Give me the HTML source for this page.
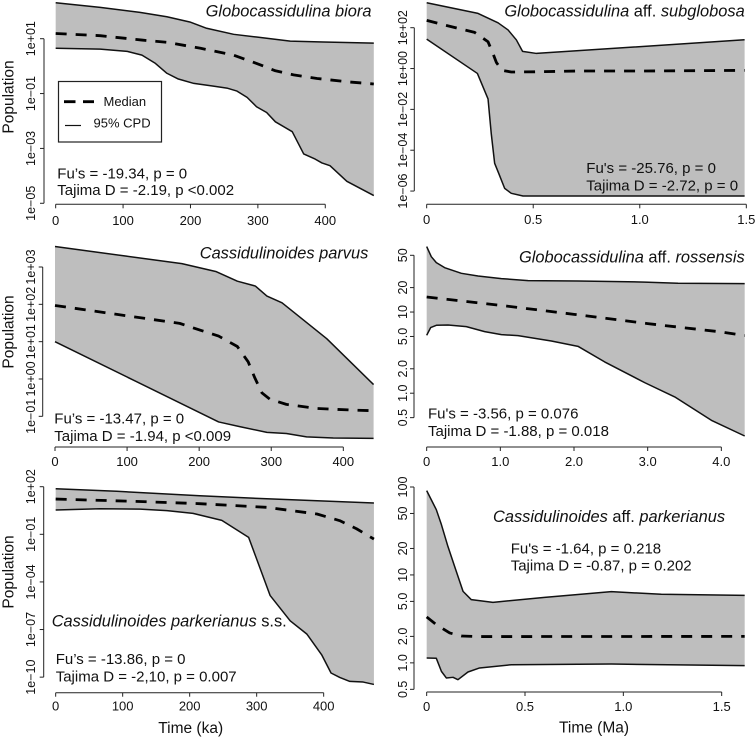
<!DOCTYPE html>
<html lang="en">
<head>
<meta charset="utf-8">
<title>Population skyline plots</title>
<style>
html,body{margin:0;padding:0;background:#fff;}
svg{display:block;font-family:"Liberation Sans",Arial,sans-serif;fill:#111;}
</style>
</head>
<body>
<svg id="chart" xmlns="http://www.w3.org/2000/svg" width="756" height="738" viewBox="0 0 756 738"></svg>
<script>
// Panel 1: Globocassidulina biora (values are log10 population)
const p1UpperTime = [0,66,125,165,199,224,264,298,348,397,472];
const p1UpperVal = [2.31,2.14,1.96,1.80,1.61,1.38,1.16,1.06,0.91,0.88,0.84];
const p1LowerTime = [0,66,106,128,148,165,182,205,234,254,269,284,298,313,326,351,368,385,395,407,432,472];
const p1LowerVal = [0.65,0.62,0.54,0.40,0.10,-0.26,-0.47,-0.63,-0.73,-0.80,-0.91,-1.14,-1.48,-1.69,-2.03,-2.39,-3.20,-3.39,-3.53,-3.63,-4.20,-4.72];
const p1MedianTime = [0,66,128,165,215,264,298,326,353,388,432,472];
const p1MedianVal = [1.19,1.11,0.95,0.87,0.65,0.40,0.10,-0.17,-0.32,-0.45,-0.57,-0.65];
const p1XTicks = [0,100,200,300,400];
const p1XLabels = ["0","100","200","300","400"];
const p1YTicks = [1,-1,-3,-5];
const p1YLabels = ["1e+01","1e\u221201","1e\u221203","1e\u221205"];

// Panel 2: Globocassidulina aff. subglobosa (log10 population)
const p2UpperTime = [0,0.241,0.335,0.382,0.421,0.45,0.515,1.492];
const p2UpperVal = [3.22,2.70,2.24,1.89,1.40,0.84,0.74,1.41];
const p2LowerTime = [0,0.238,0.288,0.303,0.319,0.338,0.366,0.397,0.452,1.492];
const p2LowerVal = [1.44,-0.24,-1.49,-3.18,-4.64,-5.13,-5.87,-6.11,-6.24,-6.24];
const p2MedianTime = [0,0.084,0.225,0.288,0.311,0.327,0.354,0.397,0.507,0.71,1.023,1.492];
const p2MedianVal = [2.36,2.13,1.77,1.31,0.74,0.30,-0.09,-0.17,-0.16,-0.12,-0.12,-0.09];
const p2XTicks = [0,0.5,1,1.5];
const p2XLabels = ["0","0.5","1.0","1.5"];
const p2YTicks = [2,0,-2,-4,-6];
const p2YLabels = ["1e+02","1e+00","1e\u221202","1e\u221204","1e\u221206"];

// Panel 3: Cassidulinoides parvus (log10 population)
const p3UpperTime = [0,99,176,223,253,278,294,315,377,442];
const p3UpperVal = [3.55,3.29,3.09,2.88,2.62,2.49,2.22,2.04,1.08,-0.15];
const p3LowerTime = [0,227,257,294,321,349,386,442];
const p3LowerVal = [1.0,-1.15,-1.28,-1.43,-1.46,-1.55,-1.58,-1.59];
const p3MedianTime = [0,86,173,201,227,253,268,277,287,298,321,363,409,442];
const p3MedianVal = [1.97,1.73,1.49,1.31,1.15,0.87,0.46,0.04,-0.37,-0.54,-0.68,-0.79,-0.83,-0.85];
const p3XTicks = [0,100,200,300,400];
const p3XLabels = ["0","100","200","300","400"];
const p3YTicks = [3,2,1,0,-1];
const p3YLabels = ["1e+03","1e+02","1e+01","1e+00","1e\u221201"];

// Panel 4: Globocassidulina aff. rossensis (population)
const p4UpperTime = [0,0.063,0.131,0.244,0.471,0.697,1.014,1.376,2.054,2.959,3.412,4.317];
const p4UpperVal = [64,48.1,40.6,35.2,30,27.8,25.8,24.4,24.1,23.4,22.6,22.4];
const p4LowerTime = [0,0.054,0.131,0.29,0.538,0.787,1.014,1.24,1.692,2.054,2.416,2.959,3.367,3.864,4.317];
const p4LowerVal = [5.17,6.43,6.87,6.93,6.61,5.74,5.27,5.12,4.40,3.78,2.43,1.35,0.90,0.464,0.297];
const p4MedianTime = [0,1,2,3,4,4.317];
const p4MedianVal = [15.3,12.1,9.37,7.2,5.68,5.12];
const p4XTicks = [0,1,2,3,4];
const p4XLabels = ["0","1.0","2.0","3.0","4.0"];
const p4YTicks = [50,20,10,5,2,1,0.5];
const p4YLabels = ["50","20","10","5.0","2.0","1.0","0.5"];

// Panel 5: Cassidulinoides parkerianus s.s. (log10 population)
const p5UpperTime = [0,91,215,315,475];
const p5UpperVal = [1.87,1.71,1.43,1.24,0.97];
const p5LowerTime = [0,66,126,166,205,248,288,320,350,375,397,411,424,439,459,475];
const p5LowerVal = [0.53,0.61,0.59,0.49,0.32,-0.12,-1.19,-4.85,-6.45,-7.29,-8.59,-9.74,-10.02,-10.27,-10.31,-10.46];
const p5MedianTime = [0,116,215,315,390,424,449,475];
const p5MedianVal = [1.22,1.08,0.93,0.70,0.28,-0.14,-0.65,-1.30];
const p5XTicks = [0,100,200,300,400];
const p5XLabels = ["0","100","200","300","400"];
const p5YTicks = [2,-1,-4,-7,-10];
const p5YLabels = ["1e+02","1e\u221201","1e\u221204","1e\u221207","1e\u221210"];

// Panel 6: Cassidulinoides aff. parkerianus (population)
const p6UpperTime = [0,0.049,0.075,0.108,0.142,0.185,0.227,0.337,0.6,0.939,1.193,1.617];
const p6UpperVal = [90.9,55.2,37.3,21.1,12.5,6.5,5.23,4.88,5.56,6.45,6.02,5.86];
const p6LowerTime = [0,0.049,0.075,0.10,0.134,0.159,0.21,0.269,0.431,0.939,1.617];
const p6LowerVal = [1.135,1.127,0.80,0.673,0.685,0.644,0.787,0.875,0.953,0.97,0.929];
const p6MedianTime = [0,0.049,0.117,0.176,0.261,1.617];
const p6MedianVal = [3.33,2.72,2.19,2.02,1.99,2.0];
const p6XTicks = [0,0.5,1,1.5];
const p6XLabels = ["0","0.5","1.0","1.5"];
const p6YTicks = [100,50,20,10,5,2,1,0.5];
const p6YLabels = ["100","50","20","10","5.0","2.0","1.0","0.5"];

const NS = "http://www.w3.org/2000/svg";
const svg = document.getElementById("chart");

function mk(tag, attrs, parent) {
  const el = document.createElementNS(NS, tag);
  for (const k in attrs) el.setAttribute(k, attrs[k]);
  (parent || svg).appendChild(el);
  return el;
}

// Axis functions: x is linear from a pixel origin, y is linear in log10 between two reference ticks.
function xScale(g) { return t => g.x0 + t * g.xPerUnit; }
function yScale(g) { return v => g.yA + (g.logA - (g.isLog ? v : Math.log10(v))) * g.yPerDecade; }

function pts(times, vals, sx, sy) {
  return times.map((t, i) => sx(t).toFixed(2) + "," + sy(vals[i]).toFixed(2));
}

function drawPanel(id, g, d, note, title) {
  const sx = xScale(g), sy = yScale(g);
  const grp = mk("g", {});
  
  

  // Confidence band
  const up = pts(d.upperT, d.upperV, sx, sy);
  const lo = pts(d.lowerT, d.lowerV, sx, sy).reverse();
  const band = mk("polygon", {points: up.concat(lo).join(" "), fill: "#bebebe", stroke: "none"}, grp);
  
  

  const upper = mk("polyline", {points: up.join(" "), fill: "none", stroke: "#111", "stroke-width": 1.5, "stroke-linejoin": "round"}, grp);
  
  

  const lower = mk("polyline", {points: lo.join(" "), fill: "none", stroke: "#111", "stroke-width": 1.5, "stroke-linejoin": "round"}, grp);
  
  

  const med = mk("polyline", {points: pts(d.medT, d.medV, sx, sy).join(" "), fill: "none", stroke: "#000", "stroke-width": 2.8, "stroke-dasharray": "11 9", "stroke-linejoin": "round"}, grp);
  
  

  // X axis
  const xAxis = mk("g", {stroke: "#222", "stroke-width": 1, fill: "none"}, grp);
  
  
  const xa = d.xTicks;
  mk("line", {x1: sx(xa[0]), x2: sx(xa[xa.length - 1]), y1: g.xAxisY, y2: g.xAxisY}, xAxis);
  xa.forEach((t, i) => {
    mk("line", {x1: sx(t), x2: sx(t), y1: g.xAxisY, y2: g.xAxisY + 4}, xAxis);
    const lab = mk("text", {x: sx(t), y: g.xLabelY, "text-anchor": "middle", "font-size": 13, fill: "#111", stroke: "none"}, grp);
    lab.textContent = d.xLabels[i];
    
    
  });

  // Y axis
  const yAxis = mk("g", {stroke: "#222", "stroke-width": 1, fill: "none"}, grp);
  
  
  const ya = d.yTicks;
  mk("line", {x1: g.yAxisX, x2: g.yAxisX, y1: sy(ya[0]), y2: sy(ya[ya.length - 1])}, yAxis);
  ya.forEach((v, i) => {
    mk("line", {x1: g.yAxisX - 4, x2: g.yAxisX, y1: sy(v), y2: sy(v)}, yAxis);
    const ly = sy(v), lx = g.yLabelX;
    const lab = mk("text", {x: lx, y: ly, "text-anchor": "middle", "font-size": 12.5, fill: "#111", stroke: "none", transform: "rotate(-90 " + lx + " " + ly + ")"}, grp);
    lab.textContent = d.yLabels[i];
    
    
  });

  // Neutrality statistics
  note.lines.forEach((s, i) => {
    const t = mk("text", {x: note.x, y: note.y[i], "font-size": 15, fill: "#111"}, grp);
    t.textContent = s;
    
    
  });

  // Species title
  const tt = mk("text", {x: title.x, y: title.y, "font-size": 16.4, fill: "#111", "text-anchor": title.anchor}, grp);
  
  
  title.parts.forEach(p => {
    const sp = mk("tspan", {"font-style": p[1] ? "italic" : "normal"}, tt);
    sp.textContent = p[0];
  });
}

drawPanel(1,
  {x0: 55.67, xPerUnit: 0.674, xAxisY: 204.3, xLabelY: 225, yAxisX: 44, yLabelX: 35, yA: 38.7, logA: 1, yPerDecade: 27.43, isLog: true},
  {upperT: p1UpperTime, upperV: p1UpperVal, lowerT: p1LowerTime, lowerV: p1LowerVal, medT: p1MedianTime, medV: p1MedianVal, xTicks: p1XTicks, xLabels: p1XLabels, yTicks: p1YTicks, yLabels: p1YLabels},
  {x: 57.3, y: [178.3, 195], lines: ["Fu\u2019s = -19.34, p = 0", "Tajima D = -2.19, p <0.002"]},
  {x: 371.5, y: 16.7, anchor: "end", parts: [["Globocassidulina biora", true]]});

drawPanel(2,
  {x0: 426.67, xPerUnit: 213.1, xAxisY: 204.3, xLabelY: 224, yAxisX: 414.3, yLabelX: 407, yA: 27.7, logA: 2, yPerDecade: 20.42, isLog: true},
  {upperT: p2UpperTime, upperV: p2UpperVal, lowerT: p2LowerTime, lowerV: p2LowerVal, medT: p2MedianTime, medV: p2MedianVal, xTicks: p2XTicks, xLabels: p2XLabels, yTicks: p2YTicks, yLabels: p2YLabels},
  {x: 586.3, y: [173, 190.7], lines: ["Fu's = -25.76, p = 0", "Tajima D = -2.72, p = 0"]},
  {x: 744.7, y: 16.7, anchor: "end", parts: [["Globocassidulina", true], [" aff. ", false], ["subglobosa", true]]});

drawPanel(3,
  {x0: 55, xPerUnit: 0.7208, xAxisY: 447, xLabelY: 466, yAxisX: 42.7, yLabelX: 35, yA: 267, logA: 3, yPerDecade: 37.33, isLog: true},
  {upperT: p3UpperTime, upperV: p3UpperVal, lowerT: p3LowerTime, lowerV: p3LowerVal, medT: p3MedianTime, medV: p3MedianVal, xTicks: p3XTicks, xLabels: p3XLabels, yTicks: p3YTicks, yLabels: p3YLabels},
  {x: 54.3, y: [423.3, 441], lines: ["Fu\u2019s = -13.47, p = 0", "Tajima D = -1.94, p <0.009"]},
  {x: 368.3, y: 258.7, anchor: "end", parts: [["Cassidulinoides parvus", true]]});

drawPanel(4,
  {x0: 426.67, xPerUnit: 73.67, xAxisY: 447, xLabelY: 466, yAxisX: 414, yLabelX: 407, yA: 255.3, logA: Math.log10(50), yPerDecade: 81.17, isLog: false},
  {upperT: p4UpperTime, upperV: p4UpperVal, lowerT: p4LowerTime, lowerV: p4LowerVal, medT: p4MedianTime, medV: p4MedianVal, xTicks: p4XTicks, xLabels: p4XLabels, yTicks: p4YTicks, yLabels: p4YLabels},
  {x: 428, y: [418.7, 436], lines: ["Fu's = -3.56, p = 0.076", "Tajima D = -1.88, p = 0.018"]},
  {x: 744.7, y: 262.7, anchor: "end", parts: [["Globocassidulina", true], [" aff. ", false], ["rossensis", true]]});

drawPanel(5,
  {x0: 55.67, xPerUnit: 0.67, xAxisY: 692.7, xLabelY: 710.5, yAxisX: 43.7, yLabelX: 35, yA: 486.7, logA: 2, yPerDecade: 15.87, isLog: true},
  {upperT: p5UpperTime, upperV: p5UpperVal, lowerT: p5LowerTime, lowerV: p5LowerVal, medT: p5MedianTime, medV: p5MedianVal, xTicks: p5XTicks, xLabels: p5XLabels, yTicks: p5YTicks, yLabels: p5YLabels},
  {x: 55.7, y: [664, 681.3], lines: ["Fu\u2019s = -13.86, p = 0", "Tajima D = -2,10, p = 0.007"]},
  {x: 51.7, y: 626.3, anchor: "start", parts: [["Cassidulinoides parkerianus", true], [" s.s.", false]]});

drawPanel(6,
  {x0: 426.67, xPerUnit: 196.67, xAxisY: 692, xLabelY: 711, yAxisX: 414, yLabelX: 407, yA: 487, logA: 2, yPerDecade: 87.93, isLog: false},
  {upperT: p6UpperTime, upperV: p6UpperVal, lowerT: p6LowerTime, lowerV: p6LowerVal, medT: p6MedianTime, medV: p6MedianVal, xTicks: p6XTicks, xLabels: p6XLabels, yTicks: p6YTicks, yLabels: p6YLabels},
  {x: 510.7, y: [553.7, 570.7], lines: ["Fu's = -1.64, p = 0.218", "Tajima D = -0.87, p = 0.202"]},
  {x: 493, y: 522, anchor: "start", parts: [["Cassidulinoides", true], [" aff. ", false], ["parkerianus", true]]});

// Shared axis titles
[[13.5, 97], [13.5, 332], [13.5, 572]].forEach(p => {
  const t = mk("text", {x: p[0], y: p[1], "text-anchor": "middle", "font-size": 15.5, fill: "#111", transform: "rotate(-90 " + p[0] + " " + p[1] + ")"});
  t.textContent = "Population";
  
  
});
[[190.7, 733, "Time (ka)"], [594, 732.5, "Time (Ma)"]].forEach(p => {
  const t = mk("text", {x: p[0], y: p[1], "text-anchor": "middle", "font-size": 15.5, fill: "#111"});
  t.textContent = p[2];
  
  
});

// Legend
const legend = mk("g", {});


const box = mk("rect", {x: 58.5, y: 81.5, width: 103, height: 60.5, fill: "#fff", stroke: "#222", "stroke-width": 1.2}, legend);


const legMed = mk("line", {x1: 64, x2: 94, y1: 101.7, y2: 101.7, stroke: "#000", "stroke-width": 2.8, "stroke-dasharray": "11.5 7.5"}, legend);


const legMedT = mk("text", {x: 103.5, y: 106, "font-size": 13, fill: "#111"}, legend);
legMedT.textContent = "Median";


const legCpd = mk("line", {x1: 65, x2: 81, y1: 125.5, y2: 125.5, stroke: "#111", "stroke-width": 1.2}, legend);


const legCpdT = mk("text", {x: 93.5, y: 127.5, "font-size": 13, fill: "#111"}, legend);
legCpdT.textContent = "95% CPD";


</script>
</body>
</html>
